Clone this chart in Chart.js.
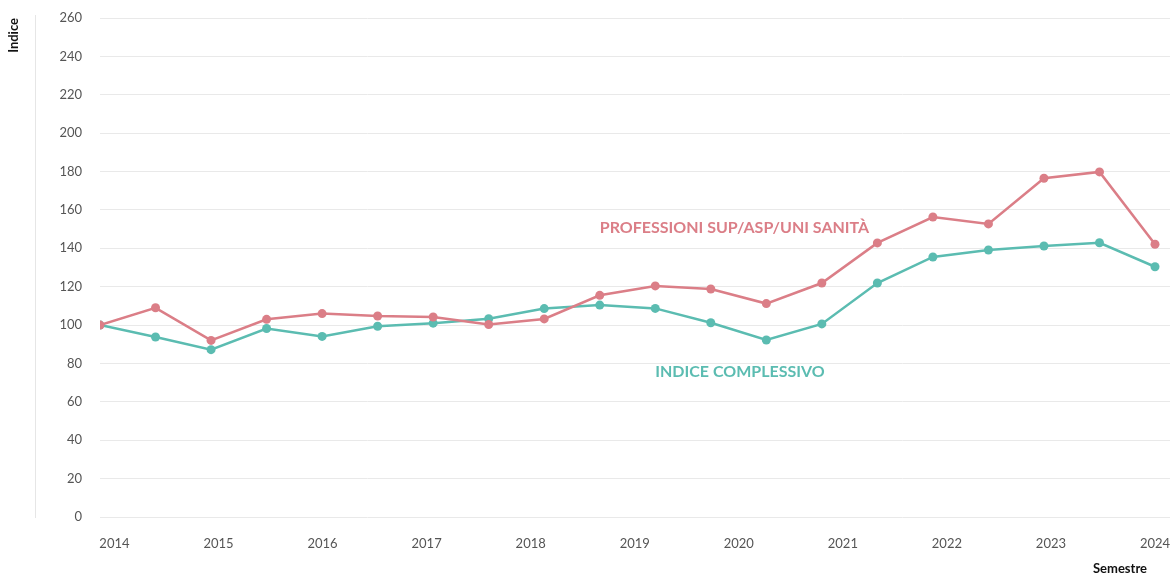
<!DOCTYPE html>
<html>
<head>
<meta charset="utf-8">
<script src="https://cdn.jsdelivr.net/npm/chart.js@4.4.1/dist/chart.umd.min.js"></script>
<style>
  html, body { margin: 0; padding: 0; background: #fff; }
  #wrap { width: 1170px; height: 575px; position: relative; }
</style>
</head>
<body>
<div id="wrap"><canvas id="myChart"></canvas></div>
<script>
// semesters, 2014 -> 2023 (20 points)
const semesters = [...Array(20).keys()];
const yearLabels = ['2014', '2015', '2016', '2017', '2018', '2019', '2020', '2021', '2022', '2023', '2024'];

const sanitaValues = [100, 109, 92, 103, 106, 104.7, 104.2, 100.3, 103.2, 115.5, 120.4, 118.8, 111.2, 121.9, 142.8, 156.3, 152.7, 176.5, 179.8, 142.1];
const complessivoValues = [100, 93.8, 87.2, 98.2, 94.1, 99.4, 101, 103.3, 108.6, 110.4, 108.7, 101.2, 92.2, 100.6, 121.9, 135.5, 139.1, 141.2, 142.9, 130.4];

const RED = '#db7e87';
const TEAL = '#5bbcb1';
const FONT = 'Lato, "Noto Sans", sans-serif';

// where the year labels fall along the semester axis
const firstYearAt = 0.26;
const yearStep = 1.874;

function toPoints(values) {
  return values.map((v, i) => ({x: semesters[i], y: v}));
}

const extras = {
  id: 'extras',
  afterDraw(chart) {
    const {ctx, scales} = chart;
    const x = scales.x;
    const y = scales.y;
    ctx.save();

    // thin vertical rule left of the tick labels
    ctx.strokeStyle = '#e6e6e6';
    ctx.lineWidth = 1;
    ctx.beginPath();
    ctx.moveTo(35.5, 15);
    ctx.lineTo(35.5, 518);
    ctx.stroke();

    // series labels
    ctx.font = 'bold 16px ' + FONT;
    ctx.textBaseline = 'middle';
    ctx.textAlign = 'left';
    ctx.fillStyle = RED;
    ctx.fillText('PROFESSIONI SUP/ASP/UNI SANITÀ', x.getPixelForValue(9.0), y.getPixelForValue(150.6));
    ctx.fillStyle = TEAL;
    ctx.fillText('INDICE COMPLESSIVO', x.getPixelForValue(10.0), y.getPixelForValue(75.6));

    // axis titles
    ctx.fillStyle = '#111';
    ctx.font = 'bold 13px ' + FONT;
    ctx.textAlign = 'right';
    ctx.fillText('Semestre', 1147, 569);
    ctx.translate(14, 18);
    ctx.rotate(-Math.PI / 2);
    ctx.fillText('Indice', 0, 0);
    ctx.restore();
  }
};

const config = {
  type: 'line',
  data: {
    datasets: [
      {
        label: 'PROFESSIONI SUP/ASP/UNI SANITÀ',
        data: toPoints(sanitaValues),
        borderColor: RED,
        backgroundColor: RED,
        borderWidth: 2.5,
        pointRadius: 4.5,
        pointBorderWidth: 0,
        tension: 0
      },
      {
        label: 'INDICE COMPLESSIVO',
        data: toPoints(complessivoValues),
        borderColor: TEAL,
        backgroundColor: TEAL,
        borderWidth: 2.5,
        pointRadius: 4.5,
        pointBorderWidth: 0,
        tension: 0
      }
    ]
  },
  options: {
    responsive: true,
    maintainAspectRatio: false,
    animation: false,
    layout: {autoPadding: false, padding: {top: 18, right: 0, left: 0, bottom: 0}},
    plugins: {legend: {display: false}, tooltip: {enabled: false}},
    scales: {
      x: {
        type: 'linear',
        min: 0,
        max: 19.27,
        grid: {display: false},
        border: {display: false},
        afterFit(scale) {
          scale.height = 58;
          scale.paddingLeft = 0;
          scale.paddingRight = 0;
        },
        afterBuildTicks(scale) {
          scale.ticks = yearLabels.map((lbl, i) => ({value: firstYearAt + i * yearStep}));
        },
        ticks: {
          padding: 11,
          maxRotation: 0,
          autoSkip: false,
          color: '#555',
          font: {family: FONT, size: 13},
          callback: (value, index) => yearLabels[index]
        }
      },
      y: {
        min: 0,
        max: 260,
        grid: {color: '#e9e9e9', drawTicks: false, lineWidth: 1},
        border: {display: false},
        afterFit(scale) {
          scale.width = 100;
          scale.paddingTop = 0;
          scale.paddingBottom = 0;
        },
        ticks: {
          stepSize: 20,
          padding: 18,
          color: '#555',
          font: {family: FONT, size: 13}
        }
      }
    }
  },
  plugins: [extras]
};

document.addEventListener('DOMContentLoaded', () => {
  new Chart(document.querySelector('#myChart'), config);
});
</script>
</body>
</html>
